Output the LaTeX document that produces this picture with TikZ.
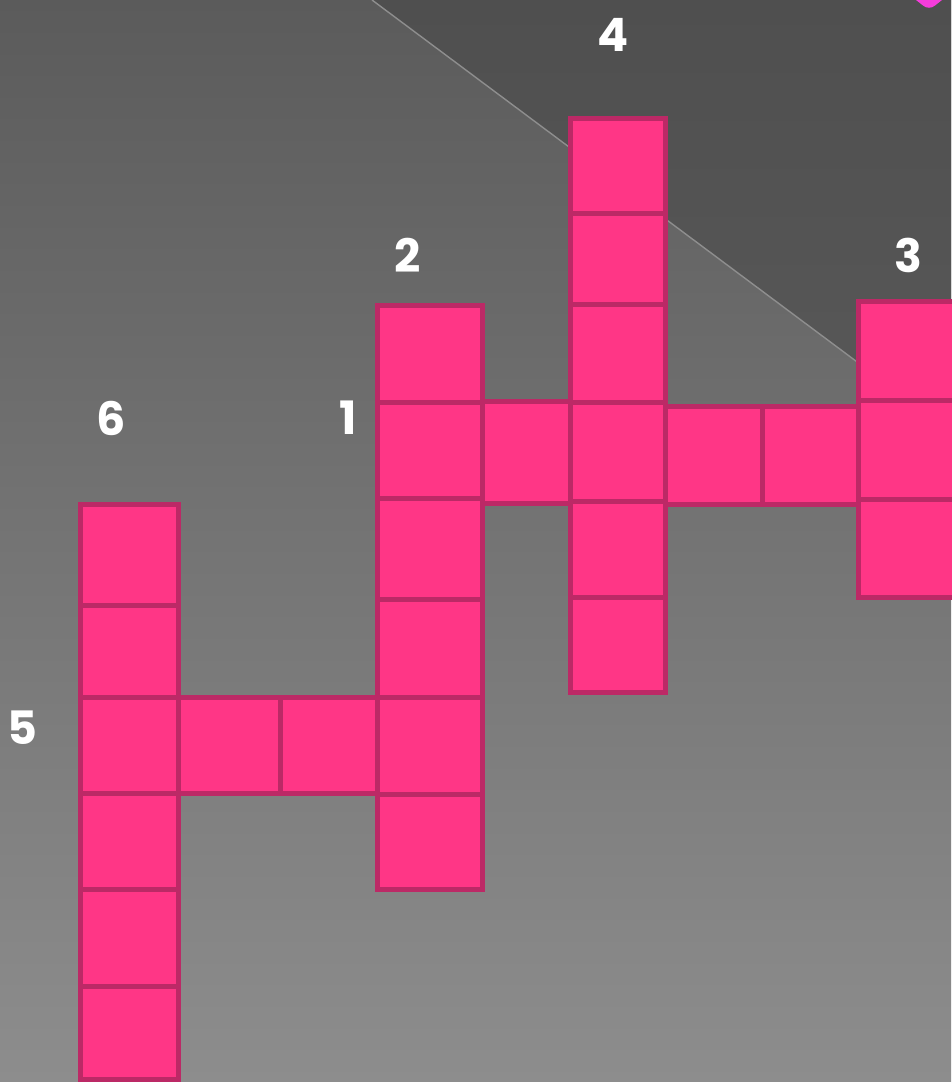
\documentclass[tikz,border=0pt]{standalone}
\usepackage{fontspec}
\setmainfont{Poppins}
\usetikzlibrary{fit}
\definecolor{cellfill}{HTML}{FF3686}
\definecolor{celledge}{HTML}{BC2966}
\definecolor{bgtop}{HTML}{5B5B5B}
\definecolor{bgbot}{HTML}{8D8D8D}
\definecolor{darktop}{HTML}{4F4F4F}
\definecolor{darkbot}{HTML}{585858}
\definecolor{diag}{HTML}{8E8E8E}
\definecolor{blob}{HTML}{F53CDA}
\tikzset{
  cell/.style={draw=celledge, fill=cellfill, line width=5pt, inner sep=0pt, outer sep=0pt},
  lab/.style={text=white, font=\fontsize{46}{46}\selectfont\bfseries, inner sep=0pt}
}
\begin{document}
\begin{tikzpicture}[x=1pt,y=-1pt]
\useasboundingbox (0,0) rectangle (951,1082);
% background
\shade[top color=bgtop, bottom color=bgbot] (0,0) rectangle (951,1082);
\shade[top color=darktop, bottom color=darkbot] (372,0) -- (951,432) -- (951,0) -- cycle;
\coordinate (d1) at (372,0);
\coordinate (d2) at (951,432);
\draw[diag, line width=1.4pt] (d1) -- (d2);
% corner blob
\fill[blob] (916,0) -- (923,5.5) .. controls (926,8.5) and (932,8.5) .. (935,5.5) -- (942,0) -- cycle;
% cells: x1/y1/x2/y2
\foreach [count=\i] \xa/\ya/\xb/\yb in {
  % column 6
  80/504/178/605, 80/605/178/697, 80/697/178/793, 80/793/178/889, 80/889/178/986, 80/986/178/1079,
  % row between 6 and 1
  178/697/280/793, 280/697/377/793,
  % column 1/2
  377/305/482/402, 377/402/482/498, 377/498/482/599, 377/599/482/697, 377/697/482/794, 377/794/482/889,
  % connector
  482/401/570/503,
  % column 4
  570/118/665/213, 570/213/665/304, 570/304/665/402, 570/402/665/501, 570/501/665/597, 570/597/665/692,
  % row to 3
  665/406/762/504, 762/406/858/504,
  % column 3
  858/301/965/400, 858/400/965/499, 858/499/965/597}
{
  \node[cell, fit={(\xa,\ya) (\xb,\yb)}] (c\i) {};
}
% labels
\node[lab] (l4) at (613,35) {4};
\node[lab] (l2) at (408,255) {2};
\node[lab] (l3) at (908,255) {3};
\node[lab] (l6) at (111,418) {6};
\node[lab] (l1) at (348,418) {1};
\node[lab] (l5) at (22,728) {5};
\end{tikzpicture}
\end{document}
